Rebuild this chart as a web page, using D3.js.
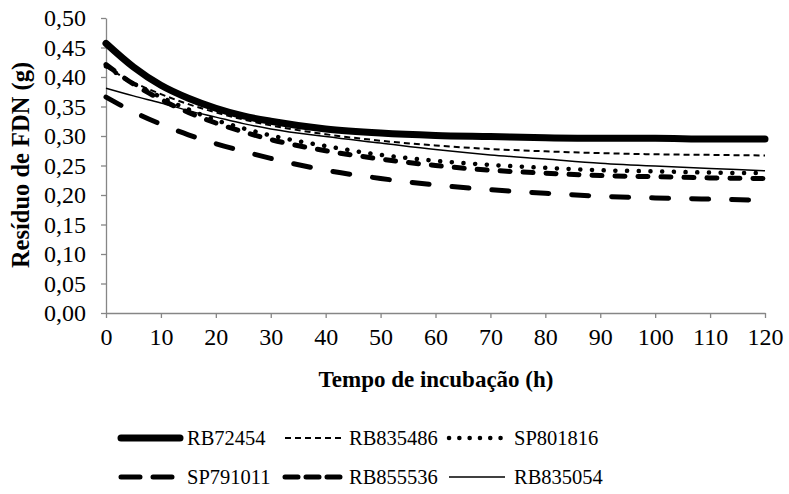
<!DOCTYPE html>
<html>
<head>
<meta charset="utf-8">
<script src="https://cdn.jsdelivr.net/npm/d3@7"></script>
<style>
  html, body { margin: 0; padding: 0; background: #fff; }
  svg { display: block; }
  svg text { font-family: "Times New Roman", "Liberation Serif", "DejaVu Serif", serif; fill: #000; }
</style>
</head>
<body>
<svg id="chart" width="789" height="494"></svg>
<script>
// ---- data ----
const hours = [0, 5, 10, 15, 20, 25, 30, 40, 50, 60, 70, 80, 90, 100, 110, 120];
const seriesNames = ["RB72454", "RB835486", "SP801816", "SP791011", "RB855536", "RB835054"];
const RB72454  = [0.457, 0.417, 0.386, 0.364, 0.347, 0.334, 0.325, 0.312, 0.305, 0.301, 0.299, 0.297, 0.296, 0.296, 0.295, 0.295];
const RB835486 = [0.417, 0.391, 0.371, 0.354, 0.340, 0.328, 0.318, 0.303, 0.292, 0.284, 0.278, 0.274, 0.271, 0.269, 0.268, 0.267];
const SP801816 = [0.418, 0.389, 0.366, 0.345, 0.327, 0.313, 0.301, 0.283, 0.268, 0.258, 0.251, 0.246, 0.242, 0.240, 0.238, 0.237];
const SP791011 = [0.366, 0.341, 0.320, 0.302, 0.287, 0.274, 0.262, 0.242, 0.228, 0.217, 0.209, 0.203, 0.198, 0.195, 0.193, 0.191];
const RB855536 = [0.421, 0.388, 0.362, 0.340, 0.322, 0.307, 0.294, 0.275, 0.261, 0.250, 0.242, 0.237, 0.233, 0.231, 0.229, 0.228];
const RB835054 = [0.381, 0.368, 0.356, 0.343, 0.332, 0.321, 0.312, 0.299, 0.288, 0.277, 0.268, 0.261, 0.254, 0.249, 0.245, 0.241];
const xTicks = [0, 10, 20, 30, 40, 50, 60, 70, 80, 90, 100, 110, 120];
const yTicks = [0, 0.05, 0.10, 0.15, 0.20, 0.25, 0.30, 0.35, 0.40, 0.45, 0.50];
const xTitle = "Tempo de incubação (h)";
const yTitle = "Resíduo de FDN (g)";

// ---- styles ----
const styles = {
  RB72454:  { width: 7,   dash: null,       cap: "round" },
  RB835486: { width: 2,   dash: "6,4",      cap: "butt" },
  SP801816: { width: 4.5, dash: "0.1,11.6", cap: "round" },
  SP791011: { width: 5,   dash: "17,23",    cap: "round" },
  RB855536: { width: 5,   dash: "10,13",    cap: "round" },
  RB835054: { width: 1.5, dash: null,       cap: "butt" }
};
const legendDash = {
  SP791011: "19,13",
  RB855536: "13,8",
  SP801816: "0.1,10.2"
};
const valuesByName = { RB72454, RB835486, SP801816, SP791011, RB855536, RB835054 };
const FONT = '"Times New Roman", "Liberation Serif", serif';

const svg = d3.select("#chart");
const x = d3.scaleLinear().domain([0, 120]).range([106, 765]);
const y = d3.scaleLinear().domain([0, 0.5]).range([313, 18]);
const fmt = v => d3.format(".2f")(v).replace(".", ",");
const axisColor = "#868686";

// axes
const yAxis = svg.append("g").attr("transform", `translate(${x(0)},0)`)
  .call(d3.axisLeft(y).tickValues(yTicks).tickFormat(fmt).tickSize(5).tickSizeOuter(0));
const xAxis = svg.append("g").attr("transform", `translate(0,${y(0)})`)
  .call(d3.axisBottom(x).tickValues(xTicks).tickSize(5).tickSizeOuter(0));
[xAxis, yAxis].forEach(g => {
  g.attr("font-family", FONT).attr("font-size", 24);
  g.select(".domain").attr("stroke", axisColor).attr("stroke-width", 1.3);
  g.selectAll(".tick line").attr("stroke", axisColor).attr("stroke-width", 1.3);
  g.selectAll(".tick text").attr("fill", "#000");
});
yAxis.selectAll(".tick text").attr("x", -20);
xAxis.selectAll(".tick text").attr("y", 15);

// titles
svg.append("text").attr("x", 436).attr("y", 387).attr("text-anchor", "middle")
  .attr("font-family", FONT).attr("font-size", 23).attr("font-weight", "bold").text(xTitle);
svg.append("text").attr("transform", "translate(29,165) rotate(-90)").attr("text-anchor", "middle")
  .attr("font-family", FONT).attr("font-size", 24.5).attr("font-weight", "bold").text(yTitle);

// lines
const line = d3.line().x((d, i) => x(hours[i])).y(d => y(d)).curve(d3.curveMonotoneX);
const drawOrder = ["SP791011", "RB855536", "SP801816", "RB835054", "RB835486", "RB72454"];
drawOrder.forEach(name => {
  const s = styles[name];
  svg.append("path").datum(valuesByName[name])
    .attr("d", line).attr("fill", "none").attr("stroke", "#000")
    .attr("stroke-width", s.width).attr("stroke-linecap", s.cap)
    .attr("stroke-dasharray", s.dash);
});

// legend
const legendRows = [[0, 1, 2], [3, 4, 5]];
const rowY = [438, 477];
const sampleX = [[121, 180], [285, 341], [449, 505]];
const textX = [187, 349, 514];
legendRows.forEach((row, r) => {
  row.forEach((idx, c) => {
    const name = seriesNames[idx];
    const s = styles[name];
    const sx = sampleX[c];
    svg.append("line").attr("x1", sx[0]).attr("x2", sx[1])
      .attr("y1", rowY[r]).attr("y2", rowY[r])
      .attr("stroke", "#000").attr("stroke-width", s.width)
      .attr("stroke-linecap", s.cap).attr("stroke-dasharray", legendDash[name] || s.dash);
    svg.append("text").attr("x", textX[c]).attr("y", rowY[r] + 7)
      .attr("font-family", FONT).attr("font-size", 20.5).text(name);
  });
});
</script>
</body>
</html>
